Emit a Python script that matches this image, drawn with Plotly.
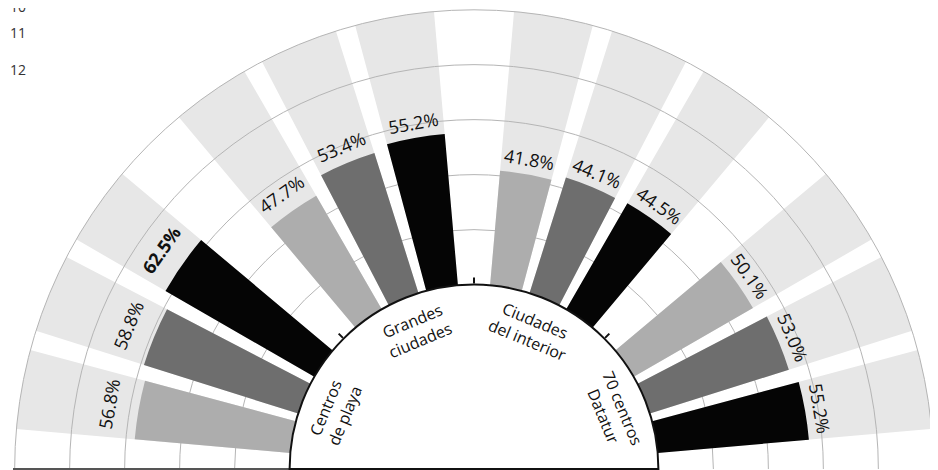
import math
import plotly.graph_objects as go

# ---- data ----
categories = ["Centros<br>de playa", "Grandes<br>ciudades", "Ciudades<br>del interior", "70 centros<br>Datatur"]
serie_a = [56.8, 47.7, 41.8, 50.1]   # light gray bars
serie_b = [58.8, 53.4, 44.1, 53.0]   # dark gray bars
serie_c = [62.5, 55.2, 44.5, 55.2]   # black bars
side_labels = ["10", "11", "12"]
full_scale = 100
grid_vals = [20, 40, 60, 80, 100]

# ---- layout geometry (page has an 8px body margin) ----
PAGE_OFF = 8
W, H = 930, 462
CX_WIN, CY_WIN, R = 474.0, 469.0, 462.0
CX, CY = CX_WIN - PAGE_OFF, CY_WIN - PAGE_OFF
HOLE = 0.4
BAR_W = 10
FONT = "Open Sans"
R_RANGE = [0, full_scale + 0.6]   # headroom so the 100 % ring is drawn

series = [
    ("Serie A", serie_a, "#adadad", 12.5),
    ("Serie B", serie_b, "#6e6e6e", 0.0),
    ("Serie C", serie_c, "#050505", -12.5),
]


def group_center(i):
    return 157.5 - 45 * i


fig = go.Figure()

# full-scale background sectors
for name, vals, color, off in series:
    th = [group_center(i) + off for i in range(len(vals))]
    fig.add_trace(go.Barpolar(
        r=[full_scale] * len(vals), theta=th, width=BAR_W,
        marker=dict(color="#e7e7e7", line=dict(width=0)),
        subplot="polar", hoverinfo="skip", showlegend=False))

# value bars
for name, vals, color, off in series:
    th = [group_center(i) + off for i in range(len(vals))]
    fig.add_trace(go.Barpolar(
        r=vals, theta=th, width=BAR_W, name=name,
        marker=dict(color=color, line=dict(width=0)),
        subplot="polar2", showlegend=False))

# inner arc helper subplot
fig.add_trace(go.Scatterpolar(r=[], theta=[], subplot="polar3", showlegend=False))

dom = dict(x=[(CX - R) / W, min(1.0, (CX + R) / W)], y=[(H - CY) / H, min(1.0, (H - CY + R) / H)])
R_eff = min(R, (dom["y"][1] - dom["y"][0]) * H, (dom["x"][1] - dom["x"][0]) * W / 2)
CXW = CX_WIN - R + R_eff if False else (dom["x"][0] * W + dom["x"][1] * W) / 2 + PAGE_OFF
CYW = CY_WIN
r_in = R_eff * HOLE
dom3 = dict(x=[(CXW - PAGE_OFF - r_in) / W, (CXW - PAGE_OFF + r_in) / W],
            y=[(H - CY) / H, (H - CY + r_in) / H])

hidden_radial = dict(range=R_RANGE, showgrid=False, showline=False,
                     showticklabels=False, ticks="")
hidden_angular = dict(showgrid=False, showline=False, showticklabels=False, ticks="",
                      direction="counterclockwise", rotation=0)

fig.update_layout(
    width=W, height=H, autosize=False,
    margin=dict(l=0, r=0, t=0, b=0),
    paper_bgcolor="white", plot_bgcolor="white",
    polar=dict(domain=dom, sector=[0, 180], hole=HOLE, bgcolor="white",
               radialaxis=hidden_radial, angularaxis=hidden_angular),
    polar2=dict(domain=dom, sector=[0, 180], hole=HOLE, bgcolor="rgba(0,0,0,0)",
                radialaxis=dict(range=R_RANGE, tickmode="array",
                                tickvals=grid_vals, showgrid=True,
                                gridcolor="#b5b5b5", gridwidth=1.3,
                                showticklabels=False, ticks="", showline=True,
                                linecolor="#555555", linewidth=2, angle=180),
                angularaxis=dict(showgrid=False, showline=False,
                                 showticklabels=False, ticks="",
                                 direction="counterclockwise", rotation=0)),
    polar3=dict(domain=dom3, sector=[0, 180], hole=0, bgcolor="rgba(0,0,0,0)",
                radialaxis=dict(range=[0, 1], visible=False),
                angularaxis=dict(type="linear", showgrid=False, showline=True,
                                 linecolor="#111111", linewidth=2,
                                 ticks="outside", tickmode="array",
                                 tickvals=[45, 90, 135], ticklen=6, tickwidth=1.5,
                                 tickcolor="#111111", showticklabels=False,
                                 direction="counterclockwise", rotation=0)),
)


def to_paper(xw, yw):
    """window pixel -> paper coords"""
    return (xw - PAGE_OFF) / W, 1 - (yw - PAGE_OFF) / H


annotations = []
vmax = max(serie_a + serie_b + serie_c)
for name, vals, color, off in series:
    for i, v in enumerate(vals):
        th = group_center(i) + off
        t = math.radians(th)
        r_px = R_eff * (HOLE + (1 - HOLE) * v / R_RANGE[1])
        extra = 15 + 16 * max(0.0, -math.cos(t)) ** 2
        rl = r_px + extra
        x, y = to_paper(CXW + rl * math.cos(t), CYW - rl * math.sin(t))
        txt = f"{v:.1f}%"
        if v == vmax:
            txt = f"<b>{txt}</b>"
        annotations.append(dict(x=x, y=y, xref="paper", yref="paper", text=txt,
                                showarrow=False, textangle=90 - th,
                                xanchor="center", yanchor="middle",
                                font=dict(family=FONT, size=18, color="#111111")))

for i, cat in enumerate(categories):
    th = group_center(i)
    t = math.radians(th)
    rl = 150
    x, y = to_paper(CXW + rl * math.cos(t), CYW - rl * math.sin(t))
    annotations.append(dict(x=x, y=y, xref="paper", yref="paper", text=cat,
                            showarrow=False, textangle=90 - th, align="center",
                            xanchor="center", yanchor="middle",
                            font=dict(family=FONT, size=16, color="#111111")))

side_y = [6, 32, 69]
for lab, yw in zip(side_labels, side_y):
    x, y = to_paper(PAGE_OFF, yw)
    annotations.append(dict(x=x, y=y, xref="paper", yref="paper", text=lab,
                            showarrow=False, xanchor="left", yanchor="middle",
                            font=dict(family=FONT, size=14, color="#333333")))

fig.update_layout(annotations=annotations)
fig.write_html("out.html")
